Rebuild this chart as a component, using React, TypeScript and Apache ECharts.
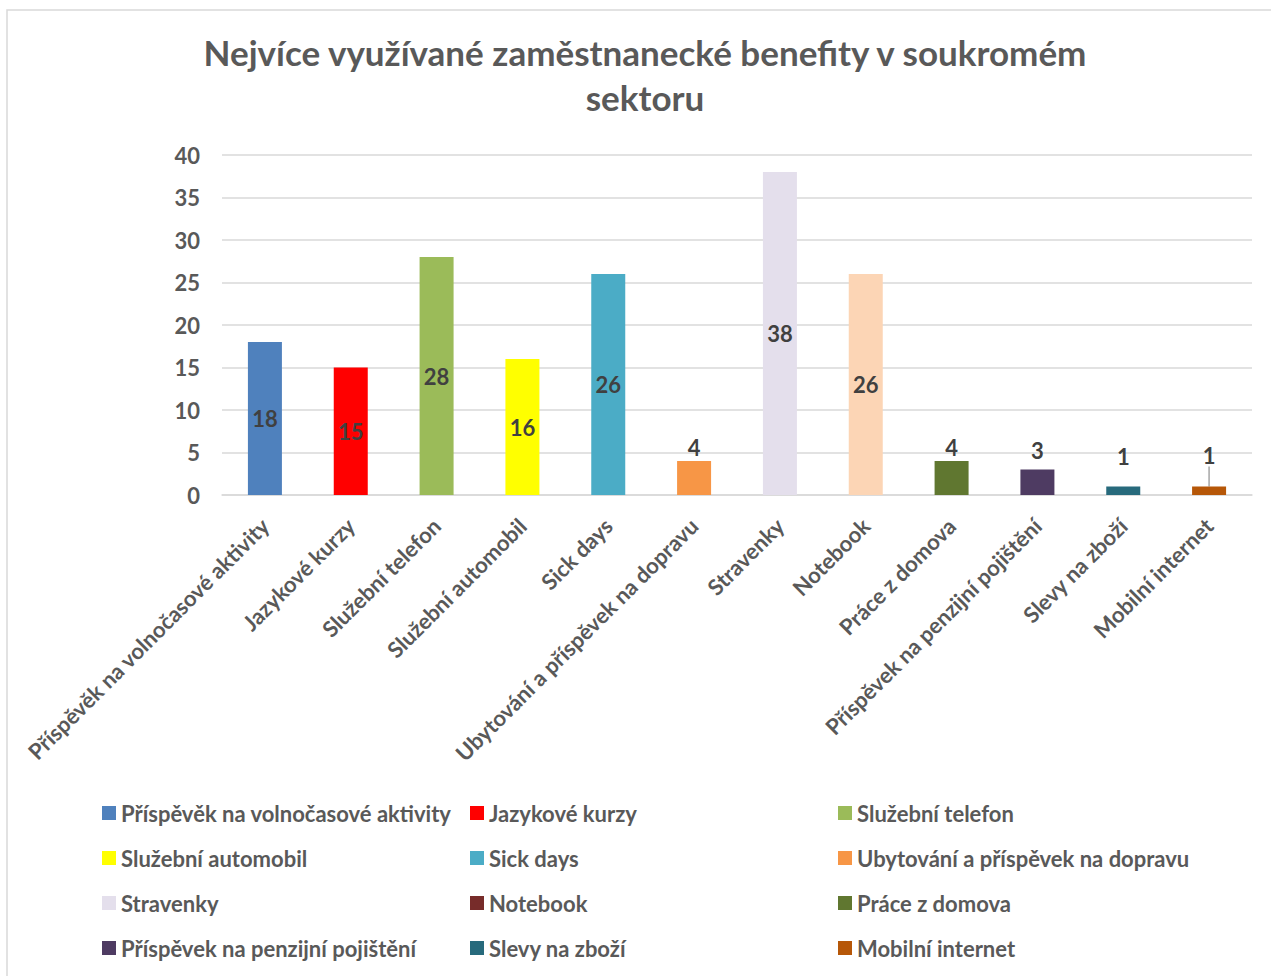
import React, { useEffect, useRef } from "react";
import * as echarts from "echarts";

const categories = [
  "Příspěvěk na volnočasové aktivity",
  "Jazykové kurzy",
  "Služební telefon",
  "Služební automobil",
  "Sick days",
  "Ubytování a příspěvek na dopravu",
  "Stravenky",
  "Notebook",
  "Práce z domova",
  "Příspěvek na penzijní pojištění",
  "Slevy na zboží",
  "Mobilní internet",
];
const values = [18, 15, 28, 16, 26, 4, 38, 26, 4, 3, 1, 1];
const barColors = [
  "#4F81BD", "#FF0000", "#9BBB59", "#FFFF00", "#4BACC6", "#F79646",
  "#E4DFEC", "#FCD5B5", "#607730", "#4E3B62", "#276A7C", "#B65708",
];
const legendColors = [
  "#4F81BD", "#FF0000", "#9BBB59", "#FFFF00", "#4BACC6", "#F79646",
  "#E4DFEC", "#772C2A", "#607730", "#4E3B62", "#276A7C", "#B65708",
];
const yTicks = [0, 5, 10, 15, 20, 25, 30, 35, 40];
// distance of the outside labels above small bars (as placed in the original)
const labelDistances = [0, 0, 0, 0, 0, 3, 0, 0, 3, 8, 19, 0];

const FONT = "Lato, 'Open Sans', sans-serif";

export default function App() {
  const ref = useRef<HTMLDivElement>(null);
  useEffect(() => {
    document.body.style.margin = "0";
    const chart = echarts.init(ref.current!, undefined, { renderer: "svg" });
    const series = categories.map((name, i) => {
      const data: any[] = categories.map(() => "-");
      data[i] = {
        value: values[i],
        itemStyle: { color: barColors[i] },
      };
      const small = values[i] < 10;
      const s: any = {
        name,
        type: "bar",
        stack: "all",
        barWidth: 34,
        itemStyle: { color: legendColors[i] },
        data,
        label: {
          show: true,
          position: small ? "top" : "inside",
          distance: labelDistances[i],
          fontFamily: FONT,
          fontWeight: "bold",
          fontSize: 22,
          color: "#404040",
        },
      };
      if (i === categories.length - 1) {
        s.labelLayout = { dy: -20 };
        s.labelLine = { show: true, lineStyle: { color: "#A6A6A6", width: 1.5 } };
      }
      return s;
    });

    const columns = [
      [0, 3, 6, 9],
      [1, 4, 7, 10],
      [2, 5, 8, 11],
    ];
    const lefts = [97, 465, 833];
    const legends = columns.map((col, c) => ({
      orient: "vertical",
      left: lefts[c],
      top: 797,
      itemWidth: 14,
      itemHeight: 14,
      itemGap: 23,
      icon: "rect",
      selectedMode: false,
      textStyle: {
        fontFamily: FONT,
        fontWeight: "bold",
        fontSize: 22,
        color: "#595959",
        padding: [0, 0, 0, 0],
      },
      data: col.map((i) => categories[i]),
    }));

    chart.setOption({
      animation: false,
      backgroundColor: "#ffffff",
      title: {
        text: "Nejvíce využívané zaměstnanecké benefity v soukromém\nsektoru",
        left: 640,
        textAlign: "center",
        top: 24,
        textStyle: {
          fontFamily: FONT,
          fontWeight: "bold",
          fontSize: 35,
          lineHeight: 45,
          color: "#595959",
        },
      },
      graphic: [
        {
          type: "rect",
          shape: { x: 7, y: 10, width: 1300, height: 1000 },
          style: { fill: "none", stroke: "#D9D9D9", lineWidth: 1.5 },
          silent: true,
        },
      ],
      legend: legends,
      grid: { left: 222, right: 19, top: 155, bottom: 481 },
      xAxis: {
        type: "category",
        data: categories,
        axisLine: { show: true, lineStyle: { color: "#D9D9D9", width: 1.5 } },
        axisTick: { show: false },
        axisLabel: {
          interval: 0,
          rotate: 45,
          margin: 27,
          fontFamily: FONT,
          fontWeight: "bold",
          fontSize: 22,
          color: "#595959",
        },
      },
      yAxis: {
        type: "value",
        min: yTicks[0],
        max: yTicks[yTicks.length - 1],
        interval: 5,
        axisLine: { show: false },
        axisTick: { show: false },
        splitLine: { lineStyle: { color: "#D9D9D9", width: 1.5 } },
        axisLabel: {
          margin: 22,
          fontFamily: FONT,
          fontWeight: "bold",
          fontSize: 22,
          color: "#595959",
        },
      },
      series,
    });
    return () => chart.dispose();
  }, []);
  return <div ref={ref} style={{ width: 1271, height: 976 }} />;
}
